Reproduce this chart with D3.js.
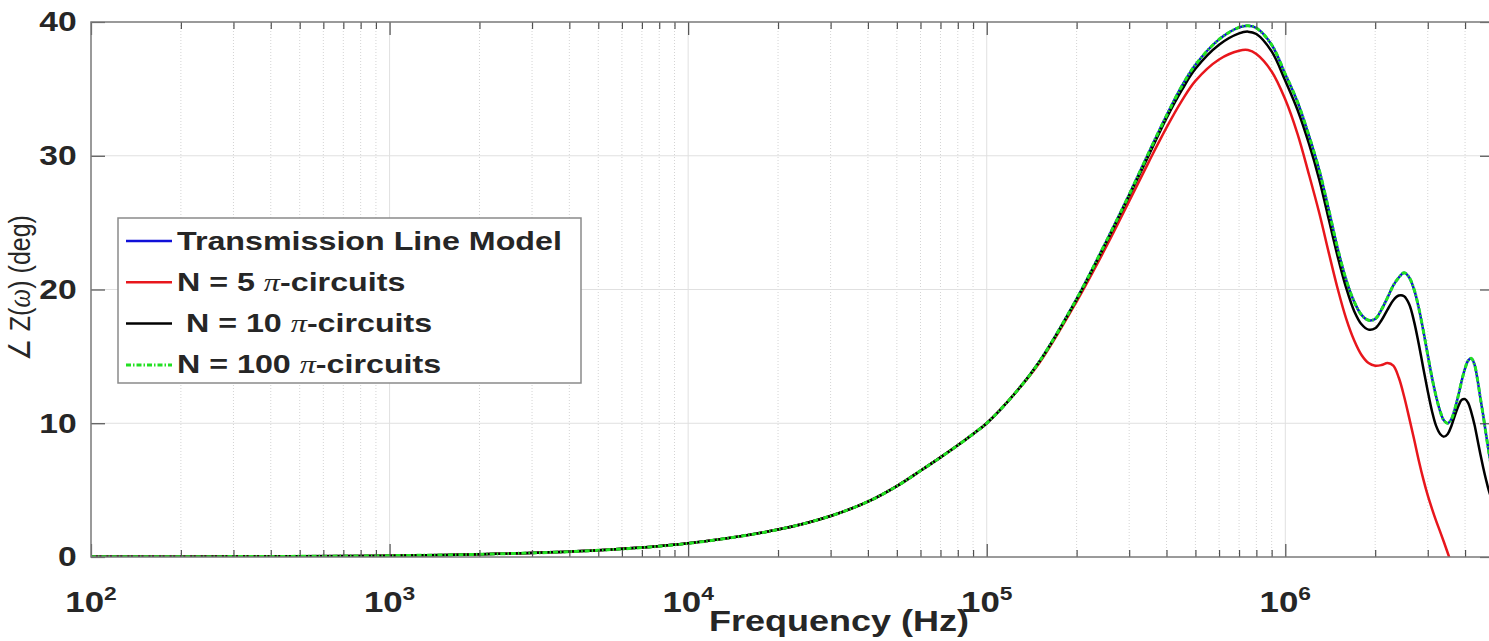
<!DOCTYPE html>
<html>
<head>
<meta charset="utf-8">
<script src="https://cdn.jsdelivr.net/npm/d3@7"></script>
<style>
  body { margin: 0; background: #fff; }
  text { font-family: "Liberation Sans", Arial, Helvetica, sans-serif; fill: #262626; }
</style>
</head>
<body>
<div class="chart"></div>
<script>
// Phase angle of Z(w): transmission line model vs cascades of pi-circuits

var svgWidth = 1489;
var svgHeight = 641;

// the axes box runs a few pixels past the right edge of the picture
var margin = {
  top: 22,
  right: -5,
  bottom: 84,
  left: 91
};

var width = svgWidth - margin.left - margin.right;
var height = svgHeight - margin.top - margin.bottom;

// ---- data ----
var freqHz = [
  100, 200, 500, 1e3, 2e3, 5e3, 1e4, 2e4, 3e4, 4e4, 5e4, 6e4, 7e4, 8e4, 9e4,
  1e5, 1.25e5, 1.5e5, 2e5, 2.5e5, 3e5, 3.5e5, 4e5, 4.5e5, 5e5, 6e5, 7e5, 7.5e5, 8e5, 9e5,
  1e6, 1.1e6, 1.2e6, 1.3e6, 1.4e6, 1.5e6, 1.6e6, 1.7e6, 1.8e6, 1.9e6,
  2e6, 2.1e6, 2.2e6, 2.3e6, 2.4e6, 2.5e6, 2.6e6, 2.7e6, 2.8e6, 2.9e6,
  3e6, 3.1e6, 3.2e6, 3.3e6, 3.4e6, 3.5e6, 3.6e6, 3.7e6, 3.8e6, 3.9e6,
  4e6, 4.1e6, 4.2e6, 4.3e6, 4.4e6, 4.5e6, 4.6e6, 4.7e6, 4.8e6, 4.9e6, 5e6
];

var phaseTL = [
  0.01, 0.02, 0.05, 0.1, 0.2, 0.5, 1.02, 2.05, 3.07, 4.14, 5.3, 6.45, 7.45, 8.35, 9.2,
  10.0, 12.3, 14.6, 19.3, 23.5, 27.1, 30.3, 33.0, 35.2, 36.8, 38.7, 39.6, 39.72, 39.55, 38.3,
  36.1, 34.0, 31.5, 28.9, 25.9, 23.0, 20.7, 19.1, 18.1, 17.7,
  17.8, 18.5, 19.4, 20.3, 20.9, 21.25, 20.9, 20.0, 18.6, 16.9,
  15.1, 13.4, 12.0, 10.9, 10.2, 10.0, 10.3, 11.1, 12.1, 13.2,
  14.1, 14.7, 14.85, 14.4, 13.3, 11.9, 10.6, 9.2, 7.9, 6.7, 5.6
];

var phaseN5 = [
  0.01, 0.02, 0.05, 0.1, 0.2, 0.5, 1.02, 2.05, 3.07, 4.14, 5.3, 6.45, 7.45, 8.35, 9.2,
  10.0, 12.3, 14.5, 19.1, 23.1, 26.6, 29.6, 32.1, 34.1, 35.6, 37.2, 37.85, 37.9, 37.6, 36.3,
  34.2, 31.6, 28.6, 25.7, 22.7, 20.0, 17.8, 16.2, 15.1, 14.5,
  14.3, 14.35, 14.5, 14.3, 13.4, 12.0, 10.4, 8.8, 7.2, 5.8,
  4.6, 3.6, 2.7, 1.9, 1.1, 0.3, -0.5, null, null, null,
  null, null, null, null, null, null, null, null, null, null, null
];

var phaseN10 = [
  0.01, 0.02, 0.05, 0.1, 0.2, 0.5, 1.02, 2.05, 3.07, 4.14, 5.3, 6.45, 7.45, 8.35, 9.2,
  10.0, 12.3, 14.6, 19.25, 23.4, 27.0, 30.1, 32.8, 34.9, 36.5, 38.3, 39.15, 39.28, 39.1, 37.8,
  35.6, 33.4, 30.9, 28.2, 25.2, 22.4, 20.1, 18.4, 17.4, 17.0,
  17.1, 17.7, 18.5, 19.2, 19.55, 19.5, 18.9, 17.6, 15.9, 14.1,
  12.4, 10.9, 9.8, 9.2, 9.0, 9.2, 9.8, 10.6, 11.3, 11.75,
  11.8, 11.5, 10.8, 9.9, 8.8, 7.7, 6.7, 5.8, 5.0, 4.4, 3.9
];

// N = 100 lies on top of the transmission line curve
var phaseN100 = [
  0.01, 0.02, 0.05, 0.1, 0.2, 0.5, 1.02, 2.05, 3.07, 4.14, 5.3, 6.45, 7.45, 8.35, 9.2,
  10.0, 12.3, 14.6, 19.3, 23.5, 27.1, 30.3, 33.0, 35.2, 36.8, 38.7, 39.6, 39.72, 39.55, 38.3,
  36.1, 34.0, 31.5, 28.9, 25.9, 23.0, 20.7, 19.1, 18.1, 17.7,
  17.8, 18.5, 19.4, 20.3, 20.9, 21.25, 20.9, 20.0, 18.6, 16.9,
  15.1, 13.4, 12.0, 10.9, 10.2, 10.0, 10.3, 11.1, 12.1, 13.2,
  14.1, 14.7, 14.85, 14.4, 13.3, 11.9, 10.6, 9.2, 7.9, 6.7, 5.6
];

var legendLabels = [
  "Transmission Line Model",
  "N = 5 π-circuits",
  " N = 10 π-circuits",
  "N = 100 π-circuits"
];

var yTicks = [0, 10, 20, 30, 40];
var xDecades = [1e2, 1e3, 1e4, 1e5, 1e6];

// series drawing order matters: green dash-dot sits on top of blue
var series = [
  { values: phaseTL,   color: "#1010d8", dash: null,        width: 2.5 },
  { values: phaseN5,   color: "#e8161c", dash: null,        width: 2.5 },
  { values: phaseN10,  color: "#000000", dash: null,        width: 2.5 },
  { values: phaseN100, color: "#22e022", dash: "5,2,1.5,2", width: 3 }
];

// Create an SVG wrapper and the chart group
var svg = d3
  .select(".chart")
  .append("svg")
  .attr("width", svgWidth)
  .attr("height", svgHeight);

var chartGroup = svg.append("g")
  .attr("transform", `translate(${margin.left}, ${margin.top})`);

// scales
var xScale = d3.scaleLog()
  .domain([100, 5e6])
  .range([0, width]);

var yScale = d3.scaleLinear()
  .domain([0, 40])
  .range([height, 0]);

// minor tick positions 2..9 per decade
var minorTicks = [];
xDecades.forEach(function(d) {
  for (var m = 2; m <= 9; m++) {
    if (m * d <= 5e6) minorTicks.push(m * d);
  }
});

// ---- grid ----
chartGroup.append("g")
  .selectAll("line")
  .data(minorTicks)
  .enter()
  .append("line")
  .attr("x1", d => xScale(d))
  .attr("x2", d => xScale(d))
  .attr("y1", 0)
  .attr("y2", height)
  .attr("stroke", "#d4d4d4")
  .attr("stroke-width", 1)
  .attr("stroke-dasharray", "1,2");

chartGroup.append("g")
  .selectAll("line")
  .data(xDecades.slice(1))
  .enter()
  .append("line")
  .attr("x1", d => xScale(d))
  .attr("x2", d => xScale(d))
  .attr("y1", 0)
  .attr("y2", height)
  .attr("stroke", "#e0e0e0")
  .attr("stroke-width", 1);

chartGroup.append("g")
  .selectAll("line")
  .data(yTicks.slice(1, -1))
  .enter()
  .append("line")
  .attr("x1", 0)
  .attr("x2", width)
  .attr("y1", d => yScale(d))
  .attr("y2", d => yScale(d))
  .attr("stroke", "#e0e0e0")
  .attr("stroke-width", 1);

// ---- curves ----
svg.append("defs")
  .append("clipPath")
  .attr("id", "plotClip")
  .append("rect")
  .attr("width", width)
  .attr("height", height);

var lineGen = d3.line()
  .defined(d => d[1] !== null)
  .x(d => xScale(d[0]))
  .y(d => yScale(d[1]))
  .curve(d3.curveCatmullRom.alpha(0.5));

var curvesGroup = chartGroup.append("g")
  .attr("clip-path", "url(#plotClip)");

series.forEach(function(s) {
  curvesGroup.append("path")
    .datum(freqHz.map((f, i) => [f, s.values[i]]))
    .attr("fill", "none")
    .attr("stroke", s.color)
    .attr("stroke-width", s.width)
    .attr("stroke-dasharray", s.dash)
    .attr("stroke-linejoin", "round")
    .attr("d", lineGen);
});

// ---- axes: box + inward ticks ----
function styleTicks(g) {
  g.select(".domain").remove();
  g.selectAll(".tick line")
    .attr("stroke", "#505050")
    .attr("stroke-width", 1.2);
}

chartGroup.append("g")
  .attr("transform", `translate(0, ${height})`)
  .call(d3.axisBottom(xScale).tickValues(xDecades).tickSize(-13).tickFormat(""))
  .call(styleTicks);

chartGroup.append("g")
  .attr("transform", `translate(0, ${height})`)
  .call(d3.axisBottom(xScale).tickValues(minorTicks).tickSize(-7).tickFormat(""))
  .call(styleTicks);

chartGroup.append("g")
  .call(d3.axisTop(xScale).tickValues(xDecades).tickSize(-13).tickFormat(""))
  .call(styleTicks);

chartGroup.append("g")
  .call(d3.axisTop(xScale).tickValues(minorTicks).tickSize(-7).tickFormat(""))
  .call(styleTicks);

chartGroup.append("g")
  .attr("transform", `translate(${width}, 0)`)
  .call(d3.axisRight(yScale).tickValues(yTicks).tickSize(-14).tickFormat(""))
  .call(styleTicks);

var yAxis = chartGroup.append("g")
  .call(d3.axisLeft(yScale).tickValues(yTicks).tickSize(-14).tickPadding(12).tickFormat(d3.format("d")))
  .call(styleTicks);

yAxis.selectAll(".tick text")
  .attr("transform", "scale(1.2, 1)")
  .style("font-size", "28px")
  .style("font-weight", "bold")
  .attr("fill", "#262626");

chartGroup.append("rect")
  .attr("width", width)
  .attr("height", height)
  .attr("fill", "none")
  .attr("stroke", "#7a7a7a")
  .attr("stroke-width", 1.5);

// x tick labels as 10^n
var xLabels = chartGroup.append("g")
  .selectAll("text")
  .data(xDecades)
  .enter()
  .append("text")
  .attr("transform", d => `translate(${xScale(d)}, ${height + 55}) scale(1.2, 1)`)
  .attr("text-anchor", "middle")
  .style("font-weight", "bold")
  .style("font-size", "29px");

xLabels.append("tspan").text("10");
xLabels.append("tspan")
  .attr("dy", -12)
  .style("font-size", "19px")
  .text(d => Math.round(Math.log10(d)));

// x axis label
svg.append("text")
  .attr("transform", "translate(839, 631) scale(1.2, 1)")
  .attr("text-anchor", "middle")
  .style("font-weight", "bold")
  .style("font-size", "30px")
  .text("Frequency (Hz)");

// y axis label
var yLabel = svg.append("text")
  .attr("transform", "translate(30, 288) scale(1.2, 1) rotate(-90)")
  .attr("text-anchor", "middle")
  .style("font-size", "25px");

yLabel.append("tspan").text("∠ Z(");
yLabel.append("tspan")
  .style("font-family", "'Liberation Serif', 'Times New Roman', serif")
  .style("font-style", "italic")
  .style("font-size", "27px")
  .text("ω");
yLabel.append("tspan").text(") (deg)");

// ---- legend ----
var legendGroup = svg.append("g")
  .attr("transform", "translate(118, 218)");

legendGroup.append("rect")
  .attr("width", 463)
  .attr("height", 165)
  .attr("fill", "#fff")
  .attr("stroke", "#8a8a8a")
  .attr("stroke-width", 1.5);

legendLabels.forEach(function(label, i) {
  var rowY = 23 + i * 41.3;
  var s = series[i];

  legendGroup.append("line")
    .attr("x1", 8)
    .attr("x2", 54)
    .attr("y1", rowY)
    .attr("y2", rowY)
    .attr("stroke", s.color)
    .attr("stroke-width", s.width)
    .attr("stroke-dasharray", s.dash);

  var parts = label.split("π");
  var txt = legendGroup.append("text")
    .attr("transform", `translate(59, ${rowY + 8.5}) scale(1.24, 1)`)
    .attr("xml:space", "preserve")
    .style("white-space", "pre")
    .style("font-weight", "bold")
    .style("font-size", "26px");

  txt.append("tspan").text(parts[0]);
  if (parts.length > 1) {
    txt.append("tspan")
      .style("font-family", "'Liberation Serif', 'Times New Roman', serif")
      .style("font-style", "italic")
      .style("font-weight", "normal")
      .text("π");
    txt.append("tspan").text(parts[1]);
  }
});
</script>
</body>
</html>
